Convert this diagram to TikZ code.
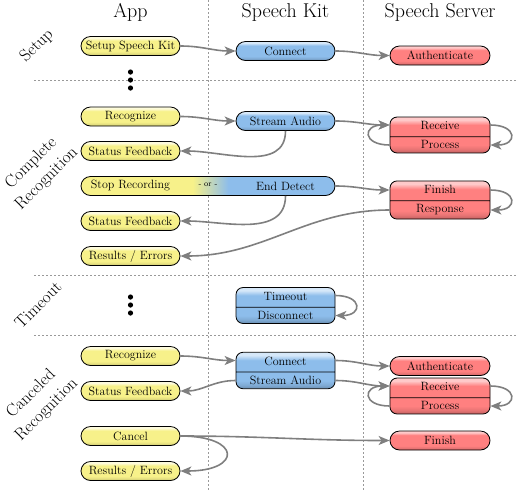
\documentclass[tikz,border=0pt]{standalone}
\usepackage{tikz}
\usetikzlibrary{shapes,arrows.meta,positioning}

\definecolor{ylw}{HTML}{F7F18A}
\definecolor{ylwtop}{HTML}{FDFBDC}
\definecolor{blu}{HTML}{8DBDEB}
\definecolor{blutop}{HTML}{D6E8F9}
\definecolor{rd}{HTML}{FF8080}
\definecolor{rdtop}{HTML}{FFCACA}
\definecolor{flowgray}{HTML}{7F7F7F}
\pgfdeclarehorizontalshading{stopend}{100bp}{color(0bp)=(ylw); color(47bp)=(ylw); color(54bp)=(blu); color(100bp)=(blu)}
\pgfdeclareverticalshading{ylwgloss}{100bp}{color(0bp)=(ylw!78!black); color(25bp)=(ylw!78!black); color(30bp)=(ylw!92!black); color(36bp)=(ylw); color(64bp)=(ylw); color(71bp)=(ylwtop); color(100bp)=(ylwtop)}
\pgfdeclareverticalshading{blugloss}{100bp}{color(0bp)=(blu!75!black); color(25bp)=(blu!75!black); color(30bp)=(blu!90!black); color(36bp)=(blu); color(64bp)=(blu); color(71bp)=(blutop); color(100bp)=(blutop)}
\pgfdeclareverticalshading{rdgloss}{100bp}{color(0bp)=(rd!75!black); color(25bp)=(rd!75!black); color(30bp)=(rd!90!black); color(36bp)=(rd); color(64bp)=(rd); color(71bp)=(rdtop); color(100bp)=(rdtop)}

\begin{document}
\begin{tikzpicture}[x=1pt, y=-1pt,
    pill/.style={rounded rectangle, draw, line width=0.8pt, minimum width=99pt, minimum height=19pt, inner sep=0pt, font=\fontsize{12}{14}\selectfont},
    app/.style={pill, shade, shading=ylwgloss},
    kit/.style={pill, shade, shading=blugloss},
    srv/.style={pill, minimum width=100pt, shade, shading=rdgloss},
    twopart/.style={rectangle split, rectangle split parts=2, draw, line width=0.8pt, rounded corners=7pt, text width=93pt, align=center, inner xsep=3pt, inner ysep=3.5pt, text height=9pt, text depth=3pt, font=\fontsize{12}{14}\selectfont},
    kitsplit/.style={twopart, shade, shading=blugloss},
    srvsplit/.style={twopart, text width=94pt, shade, shading=rdgloss},
    header/.style={anchor=base, font=\fontsize{20}{24}\selectfont},
    phase/.style={rotate=45, align=center, font=\fontsize{17}{22}\selectfont},
    lane/.style={draw=gray!80, line width=0.5pt, dash pattern=on 2pt off 2pt},
    arrow/.style={draw=flowgray, line width=1.6pt, -{Stealth[length=11pt, width=9pt, inset=3pt]}}
]
\useasboundingbox (0,0) rectangle (517,491);

% lanes
\draw[lane] (208,0) -- (208,491);
\draw[lane] (363,0) -- (363,491);
\draw[lane] (34,80) -- (517,80);
\draw[lane] (34,275) -- (517,275);
\draw[lane] (34,335) -- (517,335);

\node[header] (happ) at (130.5,17) {App};
\node[header] (hkit) at (285.5,17) {Speech Kit};
\node[header] (hsrv) at (440,17) {Speech Server};

\node[phase] (psetup) at (37,46) {Setup};
\node[phase] (pcomplete) at (39,171) {Complete\\Recognition};
\node[phase] (ptimeout) at (38,305) {Timeout};
\node[phase] (pcancel) at (39,402) {Canceled\\Recognition};

% Setup
\node[app] (setupkit) at (130.5,46) {Setup Speech Kit};
\node[kit] (connect) at (285.5,51) {Connect};
\node[srv] (auth) at (440,55.5) {Authenticate};
\foreach \y in {72,80,88} \fill (130.5,\y) circle (2.6pt);

% Complete recognition
\node[app] (recog) at (130.5,116.5) {Recognize};
\node[kit] (stream) at (285.5,121) {Stream Audio};
\node[srvsplit] (recvproc) at (440,135) {Receive\nodepart{two}Process};
\node[app] (status) at (130.5,151) {Status Feedback};
\node[pill, minimum width=254pt, shade, shading=stopend] (bar) at (208,186) {};
\node[font=\fontsize{12}{14}\selectfont] (stoprec) at (130.5,186) {Stop Recording};
\node[font=\fontsize{8}{10}\selectfont] (orsep) at (208,185) {- or -};
\node[font=\fontsize{12}{14}\selectfont] (enddet) at (285.5,186) {End Detect};
\node[srvsplit] (finresp) at (440,200) {Finish\nodepart{two}Response};
\node[app] (status2) at (130.5,221) {Status Feedback};
\node[app] (results) at (130.5,256) {Results / Errors};

% Timeout
\foreach \y in {297,305,313} \fill (130.5,\y) circle (2.6pt);
\node[kitsplit] (timeout) at (285.5,305.5) {Timeout\nodepart{two}Disconnect};

% Canceled recognition
\node[app] (recog2) at (130.5,356) {Recognize};
\node[kitsplit] (constream) at (285.5,370.5) {Connect\nodepart{two}Stream Audio};
\node[srv] (auth2) at (440,366) {Authenticate};
\node[srvsplit] (recvproc2) at (440,396) {Receive\nodepart{two}Process};
\node[app] (status3) at (130.5,391) {Status Feedback};
\node[app] (cancel) at (130.5,436) {Cancel};
\node[srv] (finish) at (440,440.5) {Finish};
\node[app] (results2) at (130.5,471) {Results / Errors};

\draw[arrow] (setupkit.east) to[out=0,in=180] (connect.west);
\draw[arrow] (connect.east) to[out=0,in=180] (auth.west);

\draw[arrow] (recog.east) to[out=0,in=180] (stream.west);
\draw[arrow] (stream.east) to[out=0,in=180] ([yshift=10pt]recvproc.west);
\draw[arrow] ([yshift=-10pt]recvproc.west) to[out=180,in=180,looseness=3.5] ([yshift=10pt]recvproc.west);
\draw[arrow] ([yshift=10pt]recvproc.east) to[out=0,in=0,looseness=3.5] ([yshift=-10pt]recvproc.east);
\draw[arrow] (stream.south) to[out=-90,in=0] (status.east);
\draw[arrow] (bar.east) to[out=0,in=180] ([yshift=10pt]finresp.west);
\draw[arrow] (enddet |- bar.south) to[out=-90,in=0] (status2.east);
\draw[arrow] ([yshift=-10pt]finresp.west) to[out=180,in=0] (results.east);
\draw[arrow] ([yshift=10pt]finresp.east) to[out=0,in=0,looseness=3.5] ([yshift=-10pt]finresp.east);

\draw[arrow] ([yshift=10pt]timeout.east) to[out=0,in=0,looseness=3.5] ([yshift=-10pt]timeout.east);

\draw[arrow] (recog2.east) to[out=0,in=180] ([yshift=10pt]constream.west);
\draw[arrow] ([yshift=-10pt]constream.west) to[out=180,in=0] (status3.east);
\draw[arrow] ([yshift=10pt]constream.east) to[out=0,in=180] (auth2.west);
\draw[arrow] ([yshift=-10pt]constream.east) to[out=0,in=180] ([yshift=10pt]recvproc2.west);
\draw[arrow] ([yshift=-10pt]recvproc2.west) to[out=180,in=180,looseness=3.5] ([yshift=10pt]recvproc2.west);
\draw[arrow] ([yshift=10pt]recvproc2.east) to[out=0,in=0,looseness=3.5] ([yshift=-10pt]recvproc2.east);
\draw[arrow] (cancel.east) to[out=0,in=180] (finish.west);
\draw[arrow] (cancel.east) to[out=0,in=0,looseness=4.5] (results2.east);

\end{tikzpicture}
\end{document}
